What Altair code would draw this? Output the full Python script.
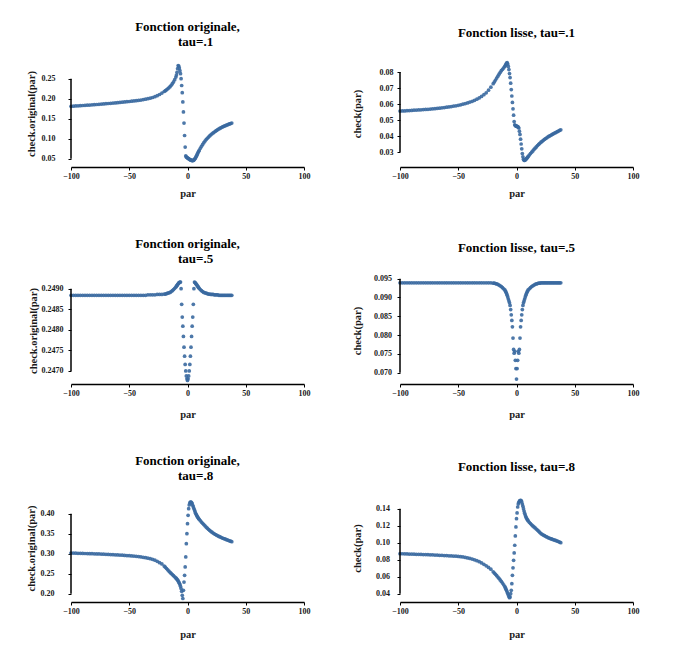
import altair as alt
import pandas as pd

# ---------------- data ----------------
par = [
    -100, -98, -96, -94, -92, -90, -88, -86, -84, -82,
    -80, -78, -76, -74, -72, -70, -68, -66, -64, -62,
    -60, -58, -56, -54, -52, -50, -48, -46, -44, -42,
    -40, -38, -36, -34, -32, -30, -28, -26, -24, -22,
    -20, -19, -18, -17, -16, -15, -14, -13, -12, -11,
    -10, -9.5, -9, -8.5, -8, -7.5, -7, -6.5, -6, -5.5,
    -5, -4.5, -4, -3.5, -3, -2.5, -2, -1.5, -1, -0.5,
    0, 0.5, 1, 1.5, 2, 2.5, 3, 3.5, 4, 4.5,
    5, 5.5, 6, 6.5, 7, 7.5, 8, 8.5, 9, 9.5,
    10,
    11, 12, 13, 14, 15, 16, 17, 18, 19, 20,
    21, 22, 23, 24, 25, 26, 27, 28, 29, 30,
    31, 32, 33, 34, 35, 36, 37, 38,
]

orig_01 = [
    .1810, .1814, .1818, .1822, .1826, .1830, .1834, .1838, .1842, .1846,
    .1850, .1855, .1860, .1865, .1870, .1875, .1880, .1885, .1890, .1895,
    .1900, .1906, .1912, .1918, .1924, .1930, .1937, .1944, .1951, .1959,
    .1967, .1977, .1988, .2000, .2014, .2030, .2050, .2075, .2105, .2140,
    .2180, .2200, .2222, .2246, .2272, .2300, .2335, .2375, .2420, .2475,
    .2540, .2590, .2660, .2750, .2830, .2815, .2770, .2700, .2625, .2500,
    .2330, .2150, .1920, .1670, .1390, .1080, .0790, .0570, .0545, .0530,
    .0520, .0510, .0500, .0490, .0480, .0470, .0462, .0456, .0452, .0452,
    .0458, .0468, .0485, .0505, .0530, .0558, .0588, .0618, .0648, .0678,
    .0708,
    .0760, .0810, .0857, .0900, .0940, .0977, .1010, .1041, .1070, .1097,
    .1122, .1145, .1167, .1188, .1208, .1227, .1245, .1262, .1278, .1293,
    .1307, .1320, .1333, .1345, .1357, .1368, .1379, .1390,
]

lisse_01 = [
    .0556, .0557, .0557, .0558, .0559, .0560, .0561, .0562, .0563, .0564,
    .0565, .0566, .0567, .0568, .0570, .0571, .0573, .0574, .0576, .0578,
    .0580, .0582, .0584, .0587, .0589, .0592, .0595, .0599, .0603, .0607,
    .0612, .0617, .0623, .0630, .0638, .0647, .0658, .0670, .0686, .0705,
    .0727, .0738, .0750, .0762, .0774, .0786, .0797, .0808, .0817, .0826,
    .0835, .0842, .0849, .0855, .0858, .0850, .0835, .0815, .0790, .0765,
    .0730, .0690, .0650, .0610, .0570, .0530, .0490, .0470, .0465, .0463,
    .0461, .0460, .0458, .0455, .0450, .0430, .0410, .0380, .0350, .0320,
    .0290, .0270, .0255, .0248, .0248, .0250, .0254, .0258, .0262, .0267,
    .0272,
    .0281, .0290, .0299, .0307, .0316, .0324, .0332, .0340, .0347, .0354,
    .0361, .0367, .0373, .0379, .0384, .0389, .0394, .0399, .0403, .0407,
    .0411, .0415, .0419, .0423, .0427, .0431, .0435, .0439,
]

orig_05 = [
    .24884, .24884, .24884, .24884, .24884, .24884, .24884, .24884, .24884, .24884,
    .24884, .24884, .24884, .24884, .24884, .24884, .24884, .24884, .24884, .24884,
    .24884, .24884, .24884, .24884, .24884, .24884, .24884, .24884, .24884, .24884,
    .24884, .24884, .24884, .24885, .24885, .24885, .24885, .24886, .24886, .24886,
    .24887, .24887, .24888, .24889, .24890, .24891, .24893, .24895, .24898, .24901,
    .24904, .24906, .24908, .24910, .24912, .24914, .24915, .24916, .24916, .24900,
    .24862, .24831, .24809, .24784, .24758, .24736, .24716, .24700, .24688, .24681,
    .24677, .24681, .24688, .24700, .24716, .24736, .24758, .24784, .24809, .24831,
    .24862, .24900, .24916, .24915, .24913, .24911, .24909, .24907, .24905, .24903,
    .24901,
    .24898, .24895, .24893, .24891, .24890, .24889, .24888, .24887, .24887, .24886,
    .24886, .24886, .24885, .24885, .24885, .24885, .24884, .24884, .24884, .24884,
    .24884, .24884, .24884, .24884, .24884, .24884, .24884, .24884,
]

lisse_05 = [
    .0939, .0939, .0939, .0939, .0939, .0939, .0939, .0939, .0939, .0939,
    .0939, .0939, .0939, .0939, .0939, .0939, .0939, .0939, .0939, .0939,
    .0939, .0939, .0939, .0939, .0939, .0939, .0939, .0939, .0939, .0939,
    .0939, .0939, .0939, .0939, .0939, .0939, .0939, .0939, .0939, .0939,
    .0938, .0938, .0937, .0936, .0935, .0933, .0931, .0929, .0926, .0923,
    .0920, .0917, .0914, .0910, .0906, .0901, .0896, .0891, .0886, .0879,
    .0868, .0854, .0839, .0822, .0792, .0762, .0752, .0757, .0733, .0711,
    .0683, .0711, .0733, .0757, .0752, .0762, .0792, .0822, .0839, .0854,
    .0868, .0879, .0886, .0891, .0896, .0901, .0906, .0910, .0914, .0917,
    .0920,
    .0923, .0926, .0929, .0931, .0933, .0935, .0936, .0937, .0938, .0938,
    .0939, .0939, .0939, .0939, .0939, .0939, .0939, .0939, .0939, .0939,
    .0939, .0939, .0939, .0939, .0939, .0939, .0939, .0939,
]

orig_08 = [
    .3017, .3015, .3013, .3011, .3009, .3007, .3005, .3003, .3001, .2999,
    .2997, .2995, .2993, .2990, .2987, .2984, .2981, .2978, .2975, .2972,
    .2969, .2966, .2962, .2958, .2954, .2950, .2945, .2940, .2934, .2927,
    .2920, .2911, .2901, .2889, .2875, .2860, .2838, .2810, .2775, .2745,
    .2690, .2662, .2630, .2597, .2565, .2535, .2506, .2478, .2450, .2422,
    .2393, .2378, .2360, .2340, .2318, .2292, .2262, .2228, .2185, .2130,
    .2060, .1960, .1880, .2085, .2290, .2460, .2670, .2920, .3250, .3500,
    .3750, .3960, .4125, .4220, .4270, .4290, .4290, .4280, .4250, .4210,
    .4170, .4130, .4090, .4050, .4010, .3980, .3950, .3925, .3902, .3880,
    .3860,
    .3825, .3792, .3760, .3728, .3697, .3667, .3638, .3610, .3584, .3560,
    .3538, .3517, .3498, .3480, .3463, .3447, .3432, .3418, .3405, .3392,
    .3380, .3368, .3356, .3345, .3334, .3323, .3312, .3300,
]

lisse_08 = [
    .0871, .0870, .0869, .0868, .0867, .0866, .0865, .0864, .0863, .0862,
    .0861, .0860, .0859, .0858, .0857, .0855, .0854, .0852, .0851, .0849,
    .0848, .0846, .0845, .0843, .0841, .0839, .0836, .0832, .0827, .0821,
    .0815, .0807, .0798, .0788, .0776, .0762, .0746, .0728, .0709, .0688,
    .0658, .0643, .0628, .0612, .0596, .0579, .0562, .0544, .0525, .0504,
    .0482, .0468, .0453, .0437, .0420, .0402, .0384, .0366, .0353, .0362,
    .0400, .0440, .0518, .0616, .0705, .0793, .0880, .0970, .1080, .1185,
    .1282, .1350, .1420, .1455, .1475, .1488, .1496, .1499, .1495, .1480,
    .1455, .1430, .1400, .1372, .1347, .1325, .1306, .1291, .1278, .1268,
    .1258,
    .1240, .1225, .1210, .1197, .1185, .1173, .1161, .1148, .1135, .1121,
    .1108, .1098, .1090, .1082, .1075, .1068, .1061, .1055, .1049, .1044,
    .1039, .1034, .1029, .1024, .1019, .1014, .1007, .1000,
]

x_ticks = [-100, -50, 0, 50, 100]
ticks_orig_01 = [0.05, 0.10, 0.15, 0.20, 0.25]
ticks_lisse_01 = [0.03, 0.04, 0.05, 0.06, 0.07, 0.08]
ticks_orig_05 = [0.2470, 0.2475, 0.2480, 0.2485, 0.2490]
ticks_lisse_05 = [0.070, 0.075, 0.080, 0.085, 0.090, 0.095]
ticks_orig_08 = [0.20, 0.25, 0.30, 0.35, 0.40]
ticks_lisse_08 = [0.04, 0.06, 0.08, 0.10, 0.12, 0.14]

for s in (orig_01, lisse_01, orig_05, lisse_05, orig_08, lisse_08):
    assert len(s) == len(par), len(s)

# zero-width space keeps the following no-break spaces from being trimmed
INDENT = "\u200b" + "\u00a0" * 5
FONT = "Liberation Serif"
DOT = "#3a69a0"


def panel(vals, title, ytitle, ticks, fmt, dom, h, toff, lpad, tx, xty):
    df = pd.DataFrame({"par": par, "val": vals})
    xaxis = alt.Axis(values=x_ticks, format="d", title="par",
                     labelOverlap=False, labelFlush=False,
                     titleY=xty, titleBaseline="middle")
    yaxis = alt.Axis(values=ticks, format=fmt, title=ytitle, domain=False,
                     labelOverlap=False, labelFlush=False,
                     labelPadding=lpad, titleX=tx, titleBaseline="middle",
                     titleAngle=-90)
    xs = alt.Scale(domain=[-100, 100], nice=False, zero=False)
    ys = alt.Scale(domain=dom, nice=False, zero=False)
    pts = alt.Chart(df).mark_circle(size=14, color=DOT, opacity=0.9).encode(
        x=alt.X("par:Q", scale=xs, axis=xaxis),
        y=alt.Y("val:Q", scale=ys, axis=yaxis))
    rdf = pd.DataFrame({"par": [-100], "val": [ticks[0]], "val2": [ticks[-1]]})
    rule = alt.Chart(rdf).mark_rule(color="black", strokeWidth=1.5).encode(
        x=alt.X("par:Q", scale=xs, axis=xaxis),
        y=alt.Y("val:Q", scale=ys, axis=yaxis),
        y2="val2:Q")
    return alt.layer(pts, rule).properties(
        width=233, height=h,
        title=alt.TitleParams(text=title, anchor="middle", frame="group",
                              offset=toff, lineHeight=15.5))


charts = [
    panel(orig_01, ["Fonction originale,", INDENT + "tau=.1"], "check.original(par)",
          ticks_orig_01, ".2f", [0.02925, 0.29675], 107, 11, 13, -40, 26),
    panel(lisse_01, "Fonction lisse, tau=.1", "check(par)",
          ticks_lisse_01, ".2f", [0.020625, 0.0875], 107, 20, 4, -43, 26),
    panel(orig_05, ["Fonction originale,", INDENT + "tau=.5"], "check.original(par)",
          ticks_orig_05, ".4f", [0.246684, 0.249284], 107, 11, 5, -38, 30.5),
    panel(lisse_05, "Fonction lisse, tau=.5", "check(par)",
          ticks_lisse_05, ".3f", [0.066995, 0.095452], 107, 20, 5.5, -43, 30.5),
    panel(orig_08, ["Fonction originale,", INDENT + "tau=.8"], "check.original(par)",
          ticks_orig_08, ".2f", [0.17925, 0.44925], 108, 11, 14, -40, 32),
    panel(lisse_08, "Fonction lisse, tau=.8", "check(par)",
          ticks_lisse_08, ".2f", [0.03024, 0.15729], 108, 20, 7.5, -43, 32),
]

chart = alt.concat(*charts, columns=2, spacing={"row": 110, "column": 96}).properties(
    bounds="flush", align="each",
    padding={"left": 17, "top": 12, "right": 5, "bottom": 5},
    background="white",
).configure_view(stroke=None).configure_axis(
    grid=False, labelOverlap=False,
    labelFont=FONT, labelFontSize=8, labelFontWeight="bold", labelColor="#1a1a1a",
    titleFont=FONT, titleFontSize=10.5, titleFontWeight="bold", titleColor="#1a1a1a",
    domainColor="black", domainWidth=1.5, tickColor="black", tickSize=3, tickWidth=1,
    labelPadding=2,
).configure_title(
    font=FONT, fontSize=13, fontWeight="bold", color="black",
)

chart.save("out.html", embed_options={"renderer": "svg", "actions": False})
